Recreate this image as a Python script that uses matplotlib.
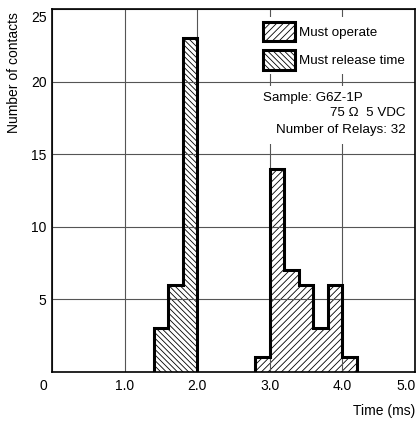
import matplotlib
matplotlib.use("Agg")
import matplotlib.pyplot as plt
import matplotlib.transforms as mtransforms
from matplotlib.patches import Patch, Rectangle

# histogram data (0.2 ms bins)
release_edges = [1.4, 1.6, 1.8, 2.0]
release_counts = [3, 6, 23]
operate_edges = [2.8, 3.0, 3.2, 3.4, 3.6, 3.8, 4.0, 4.2]
operate_counts = [1, 14, 7, 6, 3, 6, 1]

x_ticks = [0, 1, 2, 3, 4, 5]
x_tick_labels = ["0", "1.0", "2.0", "3.0", "4.0", "5.0"]
y_ticks = [5, 10, 15, 20, 25]
y_tick_labels = ["5", "10", "15", "20", "25"]

plt.rcParams["font.family"] = ["Liberation Sans", "DejaVu Sans"]
plt.rcParams["hatch.linewidth"] = 0.6

FS_AX = 10
FS_TXT = 9.6

fig = plt.figure(figsize=(4.17, 4.21), dpi=100)
ax = fig.add_axes([52 / 417, 1 - 372 / 421, 363 / 417, 363 / 421])

HATCH_OP = "/////"
HATCH_REL = "\\\\\\\\\\\\"

# hatched fill under the grid, thick outline on top of it
ax.stairs(operate_counts, operate_edges, baseline=0, fill=True, facecolor="white",
          edgecolor="black", hatch=HATCH_OP, linewidth=0, zorder=1)
ax.stairs(release_counts, release_edges, baseline=0, fill=True, facecolor="white",
          edgecolor="black", hatch=HATCH_REL, linewidth=0, zorder=1)
for counts, edges in [(operate_counts, operate_edges), (release_counts, release_edges)]:
    ax.stairs(counts, edges, baseline=0, fill=True, facecolor="none",
              edgecolor="black", linewidth=2.2, zorder=4)

ax.set_xlim(0, 5)
ax.set_ylim(0, 25)
ax.set_xticks(x_ticks)
ax.set_xticklabels(x_tick_labels)
ax.set_yticks(y_ticks)
ax.set_yticklabels(y_tick_labels)
ax.tick_params(length=0, labelsize=FS_AX)
ax.tick_params(axis="x", pad=5)
ax.tick_params(axis="y", pad=4)
ax.set_axisbelow(False)
ax.grid(True, color="#555555", linewidth=0.8, zorder=2)
for sp in ax.spines.values():
    sp.set_linewidth(1.2)
    sp.set_zorder(6)

# corner "0" and last "5.0" sit inside the frame, "25" hangs below the top
lbls = ax.get_xticklabels()
lbls[0].set_transform(lbls[0].get_transform()
                      + mtransforms.ScaledTranslation(-9 / 100, 0, fig.dpi_scale_trans))
lbls[-1].set_horizontalalignment("right")
lbls[-1].set_transform(lbls[-1].get_transform()
                       + mtransforms.ScaledTranslation(1 / 100, 0, fig.dpi_scale_trans))
ylbls = ax.get_yticklabels()
ylbls[-1].set_verticalalignment("top")
ylbls[-1].set_transform(ylbls[-1].get_transform()
                        + mtransforms.ScaledTranslation(0, -2 / 100, fig.dpi_scale_trans))

# legend
handles = [
    Patch(facecolor="white", edgecolor="black", hatch=HATCH_OP, linewidth=2.2, label="Must operate"),
    Patch(facecolor="white", edgecolor="black", hatch=HATCH_REL, linewidth=2.2, label="Must release time"),
]
leg = ax.legend(handles=handles, loc="upper right", bbox_to_anchor=(0.986, 0.978),
                borderaxespad=0, frameon=True, fancybox=False, framealpha=1,
                edgecolor="none", facecolor="white", fontsize=FS_TXT,
                handlelength=2.42, handleheight=1.85, handletextpad=0.3,
                labelspacing=0.7, borderpad=0.35)
leg.set_zorder(5)

# sample info box
ax.add_patch(Rectangle((2.84, 15.7), 2.12, 4.0, facecolor="white",
                       edgecolor="none", zorder=3))
ax.text(2.906, 18.87, "Sample: G6Z-1P", ha="left", va="center", fontsize=FS_TXT, zorder=5)
ax.text(4.876, 17.84, "75 Ω  5 VDC", ha="right", va="center", fontsize=FS_TXT, zorder=5)
ax.text(4.876, 16.67, "Number of Relays: 32", ha="right", va="center", fontsize=FS_TXT, zorder=5)

fig.text(14 / 417, 1 - 73 / 421, "Number of contacts", rotation=90,
         ha="center", va="center", fontsize=FS_AX)
fig.text(415 / 417, 1 - 411 / 421, "Time (ms)", ha="right", va="center", fontsize=FS_AX)

fig.savefig("out.png", dpi=100)
